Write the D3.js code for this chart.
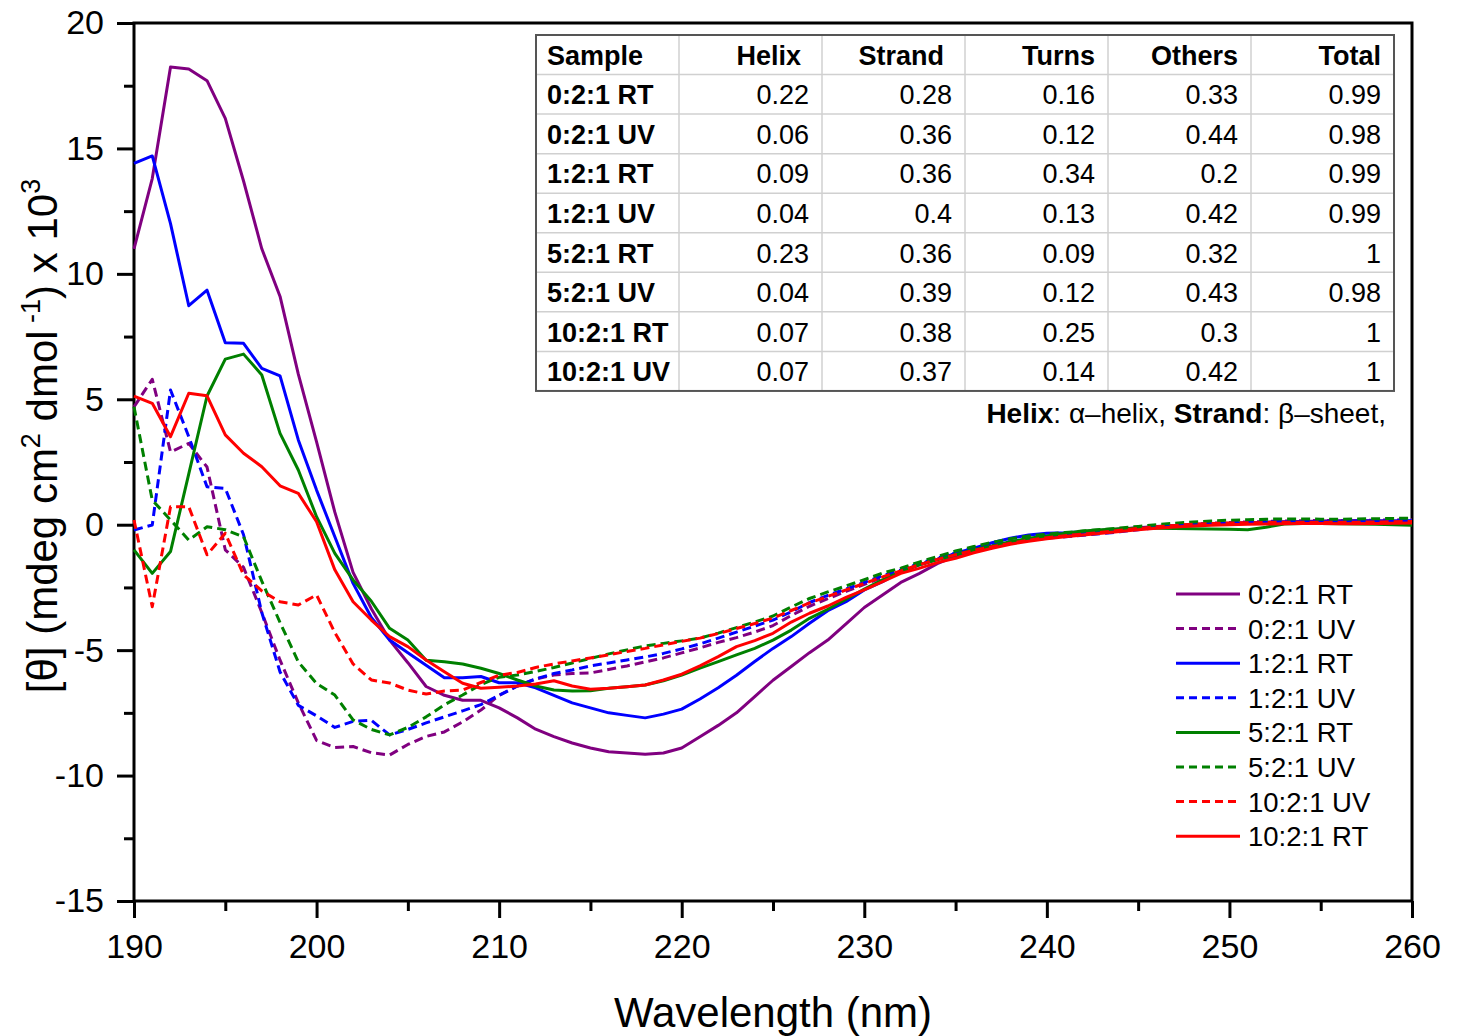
<!DOCTYPE html>
<html>
<head>
<meta charset="utf-8">
<script src="https://cdnjs.cloudflare.com/ajax/libs/d3/7.8.5/d3.min.js"></script>
<style>
body { margin: 0; background: #fff; }
text { font-family: 'Liberation Sans', Arial, sans-serif; fill: #000; }
</style>
</head>
<body>
<div id="chart"></div>
<script>
//d3.v7

//wavelength grid, 1 nm steps
var wavelength = d3.range(190, 261);

//series values (x 10^3), 190..260 nm
var p0RT = [11.0, 13.8, 18.25, 18.17, 17.7, 16.2, 13.7, 11.0, 9.1, 6.0, 3.3, 0.5, -1.9, -3.35, -4.6, -5.5, -6.45, -6.8, -7.0, -7.0,
	-7.3, -7.7, -8.15, -8.45, -8.7, -8.9, -9.05, -9.1, -9.15, -9.1, -8.9, -8.45, -8.0, -7.5, -6.85, -6.2, -5.65, -5.1, -4.6, -3.95,
	-3.3, -2.8, -2.3, -1.95, -1.55, -1.25, -1.05, -0.88, -0.72, -0.58, -0.47, -0.38, -0.3, -0.23, -0.17, -0.12, -0.07, -0.03, 0.01, 0.04,
	0.06, 0.08, 0.1, 0.12, 0.13, 0.15, 0.16, 0.17, 0.16, 0.15, 0.15];
var p0UV = [4.7, 5.8, 2.9, 3.24, 2.3, -1.0, -1.7, -3.5, -5.4, -7.1, -8.6, -8.88, -8.84, -9.09, -9.18, -8.76, -8.44, -8.26, -7.86, -7.39,
	-6.8, -6.43, -6.15, -5.99, -5.93, -5.91, -5.77, -5.63, -5.47, -5.31, -5.11, -4.91, -4.69, -4.5, -4.28, -4.02, -3.62, -3.25, -2.95, -2.66,
	-2.38, -2.1, -1.85, -1.6, -1.36, -1.16, -0.98, -0.83, -0.7, -0.58, -0.49, -0.41, -0.34, -0.27, -0.2, -0.14, -0.08, -0.03, 0.02, 0.06,
	0.09, 0.11, 0.13, 0.15, 0.16, 0.17, 0.17, 0.17, 0.18, 0.19, 0.2];
var b1RT = [14.4, 14.7, 12.0, 8.73, 9.35, 7.25, 7.23, 6.23, 5.93, 3.38, 1.38, -0.48, -2.34, -3.7, -4.6, -5.1, -5.6, -6.1, -6.1, -6.05,
	-6.3, -6.3, -6.5, -6.8, -7.1, -7.3, -7.5, -7.6, -7.7, -7.55, -7.35, -6.95, -6.5, -6.0, -5.45, -4.93, -4.46, -3.93, -3.43, -3.07,
	-2.6, -2.27, -1.87, -1.6, -1.38, -1.14, -0.94, -0.72, -0.54, -0.41, -0.34, -0.32, -0.28, -0.23, -0.18, -0.13, -0.08, -0.04, 0.0, 0.03,
	0.05, 0.07, 0.09, 0.11, 0.12, 0.13, 0.14, 0.15, 0.15, 0.15, 0.16];
var b1UV = [-0.21, -0.01, 5.37, 3.51, 1.51, 1.45, -0.4, -3.5, -5.87, -7.2, -7.62, -8.08, -7.84, -7.8, -8.38, -8.16, -7.9, -7.66, -7.42, -7.17,
	-6.8, -6.43, -6.15, -5.93, -5.79, -5.63, -5.51, -5.39, -5.27, -5.13, -4.95, -4.75, -4.52, -4.28, -4.04, -3.8, -3.47, -3.1, -2.82, -2.56,
	-2.3, -2.03, -1.8, -1.55, -1.32, -1.12, -0.95, -0.8, -0.68, -0.6, -0.54, -0.48, -0.42, -0.36, -0.28, -0.2, -0.12, -0.05, 0.0, 0.04,
	0.07, 0.09, 0.11, 0.12, 0.13, 0.14, 0.15, 0.16, 0.17, 0.18, 0.2];
var g5RT = [-1.0, -1.94, -1.07, 2.03, 5.13, 6.6, 6.8, 5.97, 3.64, 2.18, 0.32, -1.14, -2.2, -3.05, -4.13, -4.6, -5.4, -5.46, -5.55, -5.72,
	-5.93, -6.19, -6.43, -6.59, -6.63, -6.62, -6.52, -6.46, -6.39, -6.22, -5.99, -5.72, -5.46, -5.19, -4.93, -4.6, -4.2, -3.73, -3.37, -2.97,
	-2.57, -2.2, -1.87, -1.6, -1.4, -1.2, -1.0, -0.85, -0.68, -0.54, -0.45, -0.34, -0.25, -0.2, -0.16, -0.14, -0.14, -0.15, -0.16, -0.17,
	-0.18, -0.2, -0.1, 0.03, 0.05, 0.05, 0.04, 0.03, 0.02, 0.0, -0.02];
var g5UV = [4.7, 0.98, 0.19, -0.61, -0.08, -0.2, -0.48, -2.25, -3.9, -5.47, -6.33, -6.79, -7.78, -8.16, -8.38, -8.08, -7.66, -7.18, -6.79, -6.37,
	-6.08, -5.99, -5.85, -5.69, -5.51, -5.33, -5.15, -4.99, -4.83, -4.73, -4.63, -4.52, -4.32, -4.1, -3.88, -3.64, -3.28, -2.94, -2.68, -2.44,
	-2.19, -1.93, -1.73, -1.49, -1.27, -1.05, -0.87, -0.7, -0.56, -0.45, -0.38, -0.31, -0.25, -0.19, -0.13, -0.07, 0.0, 0.06, 0.11, 0.15,
	0.18, 0.2, 0.22, 0.23, 0.23, 0.22, 0.22, 0.23, 0.24, 0.25, 0.26];
var r10UV = [0.19, -3.27, 0.72, 0.72, -1.2, -0.34, -2.0, -2.64, -3.07, -3.2, -2.8, -4.3, -5.55, -6.19, -6.31, -6.59, -6.75, -6.63, -6.59, -6.29,
	-6.0, -5.89, -5.69, -5.55, -5.43, -5.31, -5.19, -5.05, -4.93, -4.79, -4.65, -4.52, -4.34, -4.14, -3.94, -3.72, -3.42, -3.12, -2.86, -2.6,
	-2.34, -2.08, -1.84, -1.6, -1.38, -1.2, -1.02, -0.88, -0.74, -0.62, -0.52, -0.44, -0.37, -0.3, -0.22, -0.15, -0.08, -0.03, 0.02, 0.05,
	0.07, 0.08, 0.09, 0.1, 0.1, 0.1, 0.1, 0.1, 0.11, 0.12, 0.13];
var r10RT = [5.13, 4.84, 3.51, 5.24, 5.14, 3.58, 2.85, 2.31, 1.55, 1.25, 0.12, -1.8, -3.07, -3.8, -4.46, -4.86, -5.39, -5.86, -6.32, -6.52,
	-6.48, -6.43, -6.35, -6.22, -6.43, -6.56, -6.52, -6.46, -6.39, -6.19, -5.96, -5.63, -5.26, -4.86, -4.62, -4.33, -3.88, -3.53, -3.24, -2.9,
	-2.6, -2.27, -1.94, -1.74, -1.51, -1.34, -1.12, -0.94, -0.78, -0.66, -0.56, -0.48, -0.41, -0.34, -0.27, -0.2, -0.14, -0.09, -0.05, -0.02,
	0.0, 0.02, 0.03, 0.04, 0.05, 0.05, 0.04, 0.04, 0.05, 0.06, 0.07];

var seriesNames = ['0:2:1 RT', '0:2:1 UV', '1:2:1 RT', '1:2:1 UV', '5:2:1 RT', '5:2:1 UV', '10:2:1 UV', '10:2:1 RT'];
var seriesValues = [p0RT, p0UV, b1RT, b1UV, g5RT, g5UV, r10UV, r10RT];
var seriesColors = ['#800080', '#800080', '#0000ff', '#0000ff', '#008000', '#008000', '#ff0000', '#ff0000'];
var seriesDashed = [false, true, false, true, false, true, true, false];

//tick labels
var xTicks = [190, 200, 210, 220, 230, 240, 250, 260];
var xMinor = [195, 205, 215, 225, 235, 245, 255];
var yTicks = [-15, -10, -5, 0, 5, 10, 15, 20];
var yMinor = [-12.5, -7.5, -2.5, 2.5, 7.5, 12.5, 17.5];

//secondary structure table
var tableHead = ['Sample', 'Helix', 'Strand', 'Turns', 'Others', 'Total'];
var tableSamples = ['0:2:1 RT', '0:2:1 UV', '1:2:1 RT', '1:2:1 UV', '5:2:1 RT', '5:2:1 UV', '10:2:1 RT', '10:2:1 UV'];
var helix = [0.22, 0.06, 0.09, 0.04, 0.23, 0.04, 0.07, 0.07];
var strand = [0.28, 0.36, 0.36, 0.4, 0.36, 0.39, 0.38, 0.37];
var turns = [0.16, 0.12, 0.34, 0.13, 0.09, 0.12, 0.25, 0.14];
var others = [0.33, 0.44, 0.2, 0.42, 0.32, 0.43, 0.3, 0.42];
var total = [0.99, 0.98, 0.99, 0.99, 1, 0.98, 1, 1];

var w = 1460;
var h = 1036;
var plotL = 134, plotR = 1412, plotT = 23, plotB = 901;
var svg;

function drawChart() {
	svg = d3.select('#chart')
		.append('svg')
		.attr('width', w)
		.attr('height', h);

	var x_scale = d3.scaleLinear().domain([190, 260]).range([plotL, plotR]);
	var y_scale = d3.scaleLinear().domain([-15, 20]).range([plotB, plotT]);

	//axes: major + minor ticks, outward
	var x_axis = d3.axisBottom(x_scale).tickValues(xTicks).tickSize(17).tickSizeOuter(0).tickPadding(16).tickFormat(function(d) { return d; });
	var x_minor = d3.axisBottom(x_scale).tickValues(xMinor).tickSize(10).tickSizeOuter(0).tickFormat('');
	var y_axis = d3.axisLeft(y_scale).tickValues(yTicks).tickSize(17).tickSizeOuter(0).tickPadding(13).tickFormat(function(d) { return String(d); });
	var y_minor = d3.axisLeft(y_scale).tickValues(yMinor).tickSize(10).tickSizeOuter(0).tickFormat('');

	[[x_axis, 'translate(0,' + plotB + ')'], [x_minor, 'translate(0,' + plotB + ')'],
	 [y_axis, 'translate(' + plotL + ',0)'], [y_minor, 'translate(' + plotL + ',0)']].forEach(function(a) {
		var g = svg.append('g').attr('transform', a[1]).call(a[0]);
		g.select('.domain').remove();
		g.selectAll('line').attr('stroke', '#000').attr('stroke-width', 3);
		g.selectAll('text').attr('font-size', 34).attr('fill', '#000')
			.style('font-family', "'Liberation Sans', Arial, sans-serif");
	});

	//frame
	svg.append('rect')
		.attr('x', plotL)
		.attr('y', plotT)
		.attr('width', plotR - plotL)
		.attr('height', plotB - plotT)
		.attr('fill', 'none')
		.attr('stroke', '#000')
		.attr('stroke-width', 3);

	//lines
	var line = d3.line()
		.x(function(d, i) { return x_scale(wavelength[i]); })
		.y(function(d) { return y_scale(d); });

	seriesValues.forEach(function(vals, k) {
		svg.append('path')
			.datum(vals)
			.attr('fill', 'none')
			.attr('stroke', seriesColors[k])
			.attr('stroke-width', 3)
			.attr('stroke-linejoin', 'round')
			.attr('stroke-dasharray', seriesDashed[k] ? '9,5' : null)
			.attr('d', line);
	});

	drawTable();
	drawLegend();

	//axis titles
	svg.append('text')
		.attr('x', 773)
		.attr('y', 1027)
		.attr('text-anchor', 'middle')
		.attr('font-size', 42)
		.text('Wavelength (nm)');

	var yt = svg.append('text')
		.attr('transform', 'translate(57,436) rotate(-90)')
		.attr('text-anchor', 'middle')
		.attr('font-size', 42);
	yt.append('tspan').text('[\u03b8] (mdeg cm');
	yt.append('tspan').attr('font-size', 27).attr('dy', -17).text('2');
	yt.append('tspan').attr('dy', 17).text(' dmol');
	yt.append('tspan').attr('font-size', 27).attr('dy', -17).text(' -1');
	yt.append('tspan').attr('dy', 17).text(') x 10');
	yt.append('tspan').attr('font-size', 27).attr('dy', -17).text('3');
}

function drawTable() {
	var tx = 536, ty = 35, colW = 143, rowH = 39.55;
	var cols = [tableSamples, helix, strand, turns, others, total];
	var nRows = tableSamples.length + 1;
	var g = svg.append('g');

	g.append('rect')
		.attr('x', tx).attr('y', ty)
		.attr('width', colW * 6).attr('height', rowH * nRows)
		.attr('fill', '#fff');

	//inner grid
	for (var r = 1; r < nRows; r++) {
		g.append('line')
			.attr('x1', tx).attr('x2', tx + colW * 6)
			.attr('y1', ty + r * rowH).attr('y2', ty + r * rowH)
			.attr('stroke', '#d0d0d0').attr('stroke-width', 1.5);
	}
	for (var c = 1; c < 6; c++) {
		g.append('line')
			.attr('x1', tx + c * colW).attr('x2', tx + c * colW)
			.attr('y1', ty).attr('y2', ty + rowH * nRows)
			.attr('stroke', '#d0d0d0').attr('stroke-width', 1.5);
	}
	g.append('rect')
		.attr('x', tx).attr('y', ty)
		.attr('width', colW * 6).attr('height', rowH * nRows)
		.attr('fill', 'none')
		.attr('stroke', '#555').attr('stroke-width', 2);

	//header (first two numeric headers sit a bit further in)
	tableHead.forEach(function(t, c) {
		g.append('text')
			.attr('x', c == 0 ? tx + 11 : tx + (c + 1) * colW - (c < 3 ? 21 : 13))
			.attr('y', ty + rowH / 2 + 10)
			.attr('text-anchor', c == 0 ? 'start' : 'end')
			.attr('font-size', 27)
			.attr('font-weight', 'bold')
			.text(t);
	});

	//body
	cols.forEach(function(col, c) {
		col.forEach(function(v, r) {
			g.append('text')
				.attr('x', c == 0 ? tx + 11 : tx + (c + 1) * colW - 13)
				.attr('y', ty + (r + 1.5) * rowH + 10)
				.attr('text-anchor', c == 0 ? 'start' : 'end')
				.attr('font-size', 27)
				.attr('font-weight', c == 0 ? 'bold' : 'normal')
				.text(String(v));
		});
	});

	//note under table
	var note = svg.append('text')
		.attr('x', 1386)
		.attr('y', 423)
		.attr('text-anchor', 'end')
		.attr('font-size', 28);
	note.append('tspan').attr('font-weight', 'bold').text('Helix');
	note.append('tspan').text(': \u03b1\u2013helix, ');
	note.append('tspan').attr('font-weight', 'bold').text('Strand');
	note.append('tspan').text(': \u03b2\u2013sheet,');
}

function drawLegend() {
	var lg = svg.append('g');
	seriesNames.forEach(function(name, k) {
		var cy = 594 + k * 34.6;
		lg.append('line')
			.attr('x1', 1176).attr('x2', 1240)
			.attr('y1', cy).attr('y2', cy)
			.attr('stroke', seriesColors[k])
			.attr('stroke-width', 3)
			.attr('stroke-dasharray', seriesDashed[k] ? '8,5' : null);
		lg.append('text')
			.attr('x', 1248)
			.attr('y', cy + 10)
			.attr('font-size', 27.5)
			.text(name);
	});
}

drawChart();
</script>
</body>
</html>
